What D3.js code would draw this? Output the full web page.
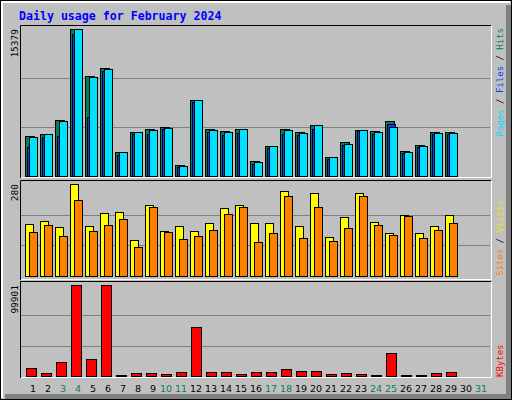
<!DOCTYPE html>
<html><head><meta charset="utf-8">
<script src="https://cdn.jsdelivr.net/npm/d3@7"></script>
<style>body{margin:0;background:#fff}svg{display:block}</style>
</head><body>
<script>
const days = d3.range(1, 32);
const weekend = [3,4,10,11,17,18,24,25,31];
const hits  = [4150,4360,5830,15379,10430,11270,2480,4570,4880,5090,1120,7920,4880,4680,4880,1540,3110,4880,4570,5300,1960,3530,4780,4680,5720,2580,3210,4570,4570];
const pages = [4050,4360,5720,15340,10320,11160,2480,4570,4780,4990,1010,7920,4780,4570,4880,1430,3110,4780,4470,5300,1960,3320,4780,4570,5090,2480,3110,4470,4470];
const files = [3030,4080,4180,14850,6140,10980,2170,4360,4360,4880,910,7710,4570,4260,4470,1220,2960,4360,4260,4880,1750,3210,4680,4360,5410,2370,3000,4360,4360];
const visits = [158,167,149,280,152,192,195,110,216,137,152,137,161,207,216,161,161,259,152,253,119,180,253,164,131,186,131,152,186];
const sites  = [134,155,122,231,137,155,173,88,210,134,113,122,140,189,210,103,131,243,116,210,107,146,243,155,125,183,116,140,161];
const kbytes = [9250,3740,15860,99570,19160,99901,1540,3740,3740,2640,4840,53290,4840,4840,2640,4840,4840,8150,5950,5950,2640,3740,2640,1540,25760,1540,1540,3740,4840];
const maxHits = 15379, maxVisits = 280, maxKB = 99901;
const title = "Daily usage for February 2024";

const W = 512, H = 400;
const svg = d3.select("body").append("svg").attr("width", W).attr("height", H);
// outer frame
svg.append("rect").attr("x",0).attr("y",0).attr("width",W).attr("height",H).attr("fill","#c0c0c0");
svg.append("rect").attr("x",506).attr("y",5).attr("width",6).attr("height",395).attr("fill","#808080");
svg.append("rect").attr("x",5).attr("y",394).attr("width",507).attr("height",6).attr("fill","#808080");
svg.append("path").attr("d","M1.5,398V1.5H510").attr("stroke","#fff").attr("stroke-width",3).attr("fill","none");
svg.append("rect").attr("x",0.5).attr("y",0.5).attr("width",W-1).attr("height",H-1).attr("fill","none").attr("stroke","#000");

svg.append("text").attr("x",19).attr("y",20).text(title)
  .attr("font-family","DejaVu Sans Mono").attr("font-weight","bold").attr("font-size","11.6px").attr("fill","#0000ff");

const x = d3.scaleLinear().domain([1,2]).range([25,40]);
const mono = "DejaVu Sans Mono";

function panel(y0, y1, base, top, max, labelVal, parts, rlabelAnchor, rlabelY) {
  const y = d3.scaleLinear().domain([0,max]).range([base, top]);
  const g = svg.append("g");
  [1/3, 2/3].forEach(f => g.append("line").attr("x1",21).attr("x2",490).attr("y1",Math.round(y(max*f))+0.5).attr("y2",Math.round(y(max*f))+0.5).attr("stroke","#808080"));
  g.append("path").attr("d",`M20.5,${y1}V${y0+0.5}H491`).attr("stroke","#000").attr("fill","none");
  g.append("path").attr("d",`M491.5,${y0+1}V${y1-0.5}H21`).attr("stroke","#fff").attr("fill","none");
  g.append("text").attr("transform",`translate(18,${top}) rotate(-90)`).attr("text-anchor","end")
    .attr("font-family",mono).attr("font-size","9.5px").attr("fill","#000").text(labelVal);
  const t = g.append("text").attr("transform",`translate(503,${rlabelY}) rotate(-90)`).attr("text-anchor",rlabelAnchor)
    .attr("font-family",mono).attr("font-size","9px");
  return {y, g, t};
}

// top panel
let p = panel(25, 178, 176, 29, maxHits, maxHits, null, "end", 28);
[["Pages","#00d8ff"],[" / ","#000"],["Files","#0040ff"],[" / ","#000"],["Hits","#00805c"]].forEach(([s,c])=>p.t.append("tspan").attr("fill",c).text(s));
const series = [[hits,"#00805c",0,9],[files,"#0040ff",2,8],[pages,"#00e0ff",4,8]];
series.forEach(([arr,col,off,w]) => {
  p.g.selectAll(null).data(arr).join("rect")
    .attr("x",(d,i)=>x(i+1)+off+0.5).attr("width",w)
    .attr("y",d=>Math.round(p.y(d))+0.5).attr("height",d=>Math.max(0,176-Math.round(p.y(d))))
    .attr("fill",col).attr("stroke","#000");
});

// middle panel
p = panel(180, 280, 276, 184, maxVisits, maxVisits, null, "start", 276);
[["Sites","#ff8000"],[" / ","#000"],["Visits","#e8e800"]].forEach(([s,c])=>p.t.append("tspan").attr("fill",c).text(s));
[[visits,"#ffff00",0,8],[sites,"#ff8000",4,8]].forEach(([arr,col,off,w]) => {
  p.g.selectAll(null).data(arr).join("rect")
    .attr("x",(d,i)=>x(i+1)+off+0.5).attr("width",w)
    .attr("y",d=>Math.round(p.y(d))+0.5).attr("height",d=>Math.max(0,276-Math.round(p.y(d))))
    .attr("fill",col).attr("stroke","#000");
});

// bottom panel
p = panel(281, 378, 376, 285, maxKB, maxKB, null, "start", 377);
p.t.append("tspan").attr("fill","#ff0000").text("KBytes");
p.g.selectAll(null).data(kbytes).join("rect")
  .attr("x",(d,i)=>x(i+1)+1.5).attr("width",10)
  .attr("y",d=>Math.round(p.y(d))+0.5).attr("height",d=>Math.max(1,376-Math.round(p.y(d))))
  .attr("fill","#ff0000").attr("stroke","#000");

// day labels
svg.selectAll(null).data(days).join("text")
  .attr("x",d=>x(d)+(d<10?8:6)).attr("y",392).attr("text-anchor","middle")
  .attr("font-family","DejaVu Sans").attr("font-size","9.5px")
  .attr("fill",d=>weekend.includes(d)?"#00805c":"#000").text(d=>d);
</script>
</body></html>
